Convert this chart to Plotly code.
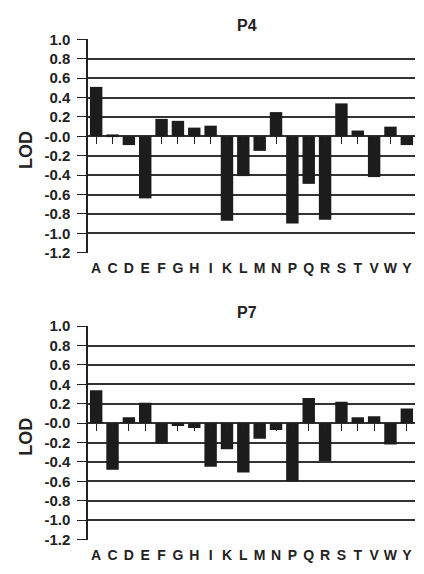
import plotly.graph_objects as go

categories = ["A", "C", "D", "E", "F", "G", "H", "I", "K", "L",
              "M", "N", "P", "Q", "R", "S", "T", "V", "W", "Y"]
p4_values = [0.51, 0.02, -0.09, -0.64, 0.18, 0.16, 0.09, 0.11, -0.87, -0.41,
             -0.15, 0.25, -0.90, -0.49, -0.86, 0.34, 0.06, -0.42, 0.10, -0.09]
p7_values = [0.34, -0.48, 0.06, 0.21, -0.21, -0.03, -0.05, -0.45, -0.27, -0.51,
             -0.16, -0.07, -0.60, 0.26, -0.39, 0.22, 0.06, 0.07, -0.22, 0.15]
titles = ["P4", "P7"]
y_tickvals = [1.0, 0.8, 0.6, 0.4, 0.2, 0.0, -0.2, -0.4, -0.6, -0.8, -1.0, -1.2]
y_ticktext = ["1.0", "0.8", "0.6", "0.4", "0.2", "-0.0", "-0.2", "-0.4",
              "-0.6", "-0.8", "-1.0", "-1.2"]

W, H = 424, 574
FONT = "Arial, Liberation Sans, sans-serif"
INK = "#222222"
BAR = "#1c1c1c"
GRID = "#333333"
YR = [-1.2, 1.0]

# pixel layout of the two panels (top, bottom)
x0, x1 = 88, 415
panels = [(32, 252), (327, 547)]

fig = go.Figure()
xdom = [x0 / W, x1 / W]
for i, (vals, title, (ptop, pbot)) in enumerate(zip([p4_values, p7_values], titles, panels)):
    n = "" if i == 0 else str(i + 1)
    ydom = [1 - pbot / H, 1 - ptop / H]
    zero_pos = ydom[0] + (0 - YR[0]) / (YR[1] - YR[0]) * (ydom[1] - ydom[0])
    fig.add_trace(go.Bar(x=categories, y=vals, marker=dict(color=BAR, line=dict(width=0)),
                         xaxis="x" + n, yaxis="y" + n, showlegend=False))
    fig.layout["xaxis" + n] = dict(
        domain=xdom, anchor="free", position=zero_pos,
        type="category", categoryorder="array", categoryarray=categories,
        tickmode="array", tickvals=categories, ticktext=categories,
        ticks="outside", ticklen=7, tickwidth=1.3, tickcolor=INK,
        showline=False, showgrid=False, zeroline=False,
        ticklabelstandoff=112,
        tickfont=dict(family=FONT, size=14, color=INK, weight="bold"),
    )
    fig.layout["yaxis" + n] = dict(
        domain=ydom, anchor="x" + n, range=[YR[0] - 0.003, YR[1] + 0.003],
        tickvals=y_tickvals, ticktext=y_ticktext,
        ticks="outside", ticklen=9, tickwidth=1.3, tickcolor=INK,
        showline=True, linecolor=INK, linewidth=1.5,
        showgrid=True, gridcolor=GRID, gridwidth=1.5,
        zeroline=False,
        ticklabelstandoff=4,
        tickfont=dict(family=FONT, size=15, color=INK, weight="bold"),
    )
    fig.add_annotation(text=title, x=(247) / W, y=1 - (ptop - 14) / H,
                       xref="paper", yref="paper", showarrow=False,
                       xanchor="center", yanchor="middle",
                       font=dict(family=FONT, size=16, color=INK, weight="bold"))
    fig.add_annotation(text="LOD", x=26 / W, y=1 - (ptop + 114) / H,
                       xref="paper", yref="paper", showarrow=False, textangle=-90,
                       xanchor="center", yanchor="middle",
                       font=dict(family=FONT, size=18, color=INK, weight="bold"))

fig.update_layout(
    width=W, height=H, margin=dict(l=0, r=0, t=0, b=0),
    paper_bgcolor="white", plot_bgcolor="white",
    bargap=0.24,
)
fig.write_html("out.html")
